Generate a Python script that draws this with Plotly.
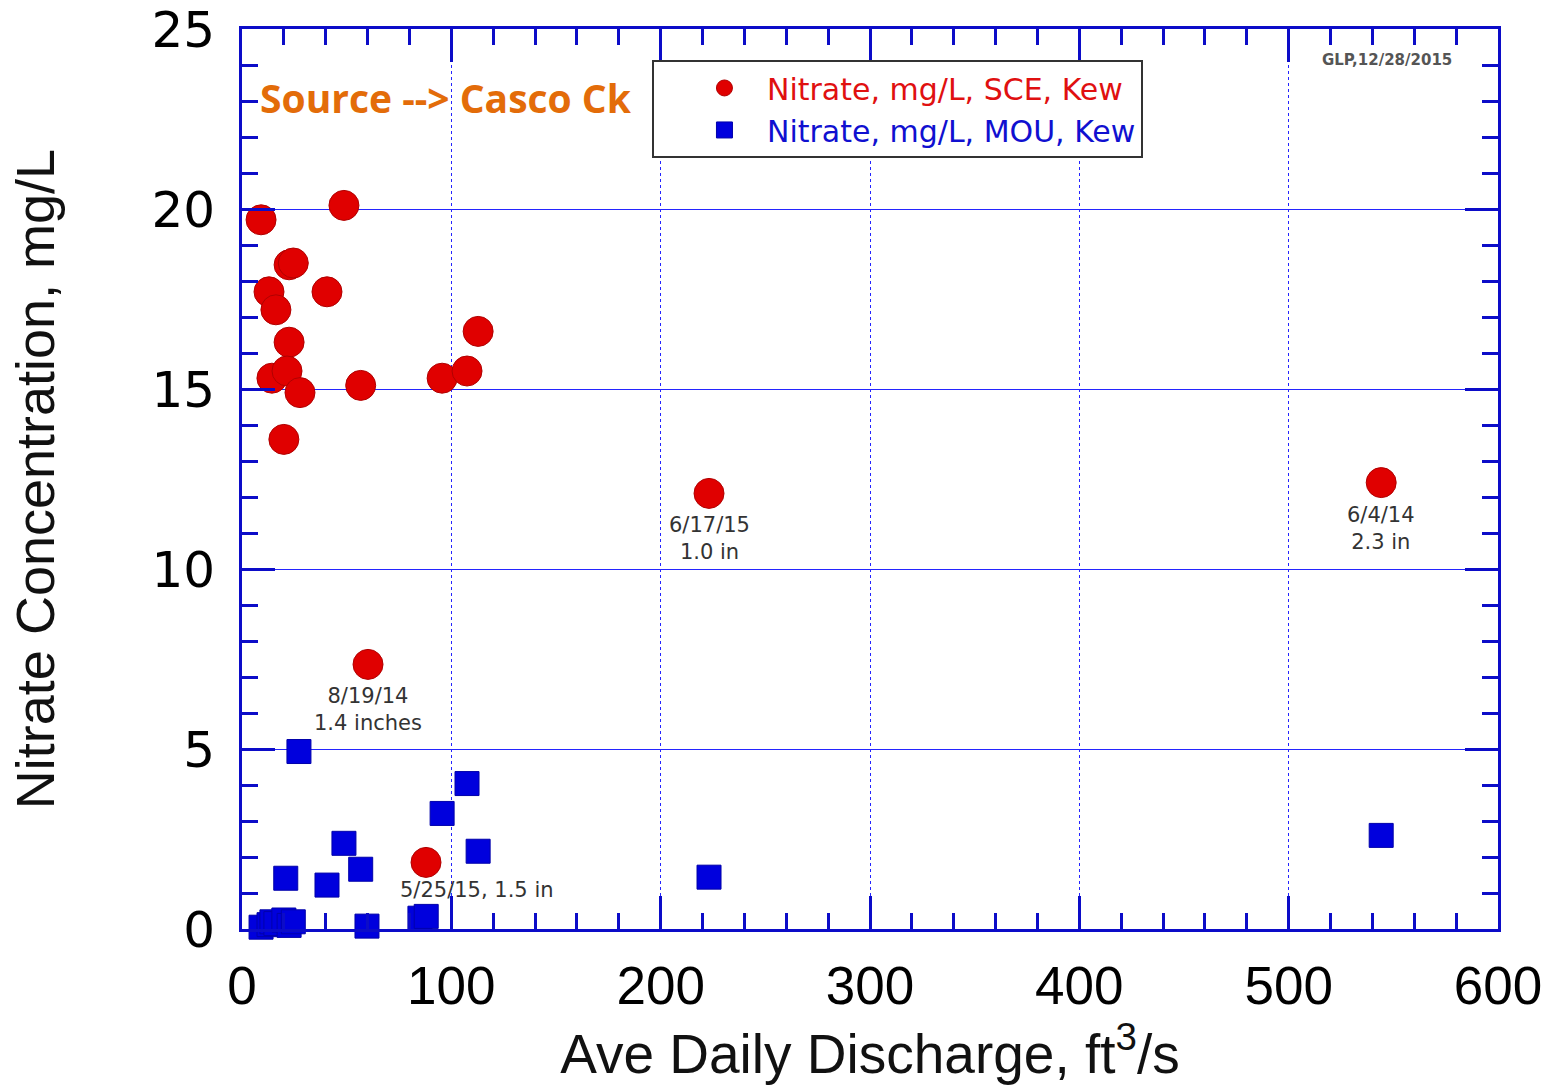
import plotly.graph_objects as go

# Nitrate at the SCE site (red) and at the MOU site (blue) versus average daily discharge
sce_discharge = [9.1, 48.7, 12.9, 16.2, 22.5, 24.5, 40.6, 22.5, 14.3, 21.5,
                 27.7, 56.7, 20.0, 95.6, 107.5, 112.8, 223.1, 544.2, 60.2, 87.9]
sce_nitrate = [19.7, 20.1, 17.7, 17.2, 18.45, 18.5, 17.7, 16.3, 15.3, 15.5,
               14.9, 15.1, 13.6, 15.3, 15.5, 16.6, 12.1, 12.4, 7.35, 1.85]

mou_discharge = [27.2, 107.5, 95.6, 48.7, 112.8, 56.7, 20.9, 40.6, 223.1, 544.2,
                 85.0, 88.0, 59.7, 9.1, 12.9, 14.3, 16.2, 20.0, 22.5, 24.5]
mou_nitrate = [4.93, 4.04, 3.21, 2.38, 2.16, 1.66, 1.41, 1.22, 1.44, 2.6,
               0.3, 0.35, 0.08, 0.05, 0.12, 0.2, 0.15, 0.25, 0.1, 0.2]

# Storm-event labels: (discharge, nitrate, text)
event_labels = [
    (223.1, 12.1, "6/17/15<br>1.0 in"),
    (544.2, 12.4, "6/4/14<br>2.3 in"),
    (60.2, 7.35, "8/19/14<br>1.4 inches"),
]
event_inline = (87.9, 1.85, "5/25/15, 1.5 in")

x_ticks = [0, 100, 200, 300, 400, 500, 600]
y_ticks = [0, 5, 10, 15, 20, 25]

FRAME = "#0c0cc8"
GRID = "#2424ff"

fig = go.Figure()
fig.add_trace(go.Scatter(
    x=sce_discharge, y=sce_nitrate, mode="markers",
    name="<span style='color:#e01010'>Nitrate, mg/L, SCE, Kew</span>",
    marker=dict(symbol="circle", size=30, color="#e00000",
                line=dict(color="#b00000", width=1)),
    cliponaxis=False,
))
fig.add_trace(go.Scatter(
    x=mou_discharge, y=mou_nitrate, mode="markers",
    name="<span style='color:#1010d0'>Nitrate, mg/L, MOU, Kew</span>",
    marker=dict(symbol="square", size=24, color="#0000dd",
                line=dict(color="#0000aa", width=1)),
    cliponaxis=False,
))

annotations = []
for x, y, txt in event_labels:
    annotations.append(dict(
        x=x, y=y, xref="x", yref="y", text=txt, showarrow=False,
        xanchor="center", yanchor="top", yshift=-18,
        font=dict(family="DejaVu Sans", size=21, color="#333333"),
    ))
annotations.append(dict(
    x=event_inline[0], y=event_inline[1], xref="x", yref="y",
    text=event_inline[2], showarrow=False,
    xanchor="left", yanchor="middle", xshift=-28, yshift=-28,
    font=dict(family="DejaVu Sans", size=21, color="#333333"),
))
annotations.append(dict(
    x=0.0127, y=0.924, xref="paper", yref="paper",
    text="<b>Source --> Casco Ck</b>", showarrow=False,
    xanchor="left", yanchor="middle",
    font=dict(family="Open Sans", size=39, color="#e36c09"),
))
annotations.append(dict(
    x=0.912, y=0.966, xref="paper", yref="paper",
    text="<b>GLP,12/28/2015</b>", showarrow=False,
    xanchor="center", yanchor="middle",
    font=dict(family="DejaVu Sans", size=15, color="#555555"),
))

axis_common = dict(
    showline=True, linecolor=FRAME, linewidth=3, mirror="allticks",
    ticks="inside", ticklen=33, tickwidth=3, tickcolor=FRAME,
    showgrid=True, gridcolor=GRID, gridwidth=1.3,
    zeroline=False, automargin=False,
)

fig.update_layout(
    width=1559, height=1088,
    margin=dict(l=242, r=61, t=29, b=159),
    paper_bgcolor="white", plot_bgcolor="white",
    showlegend=True,
    legend=dict(
        x=0.3264, y=0.9656, xanchor="left", yanchor="top",
        bgcolor="white", bordercolor="#333333", borderwidth=2,
        font=dict(family="DejaVu Sans", size=30),
        indentation=28, itemwidth=75, tracegroupgap=0,
    ),
    annotations=annotations,
)

fig.update_xaxes(
    range=[0, 600], tickvals=x_ticks,
    tickfont=dict(family="Liberation Sans", size=53, color="black"),
    ticklabelstandoff=8,
    griddash="dot",
    minor=dict(dtick=20, ticks="inside", ticklen=16, tickwidth=3,
               tickcolor=FRAME, showgrid=False),
    title=dict(text="Ave Daily Discharge, ft<sup>3</sup>/s",
               font=dict(family="Liberation Sans", size=55, color="#111111"),
               standoff=20),
    **axis_common,
)
fig.update_yaxes(
    range=[0, 25], tickvals=y_ticks,
    tickfont=dict(family="DejaVu Sans", size=50, color="black"),
    ticklabelstandoff=14,
    minor=dict(dtick=1, ticks="inside", ticklen=16, tickwidth=3,
               tickcolor=FRAME, showgrid=False),
    title=dict(text="Nitrate Concentration, mg/L",
               font=dict(family="Liberation Sans", size=54, color="#111111"),
               standoff=80),
    **axis_common,
)

fig.write_html("out.html")
